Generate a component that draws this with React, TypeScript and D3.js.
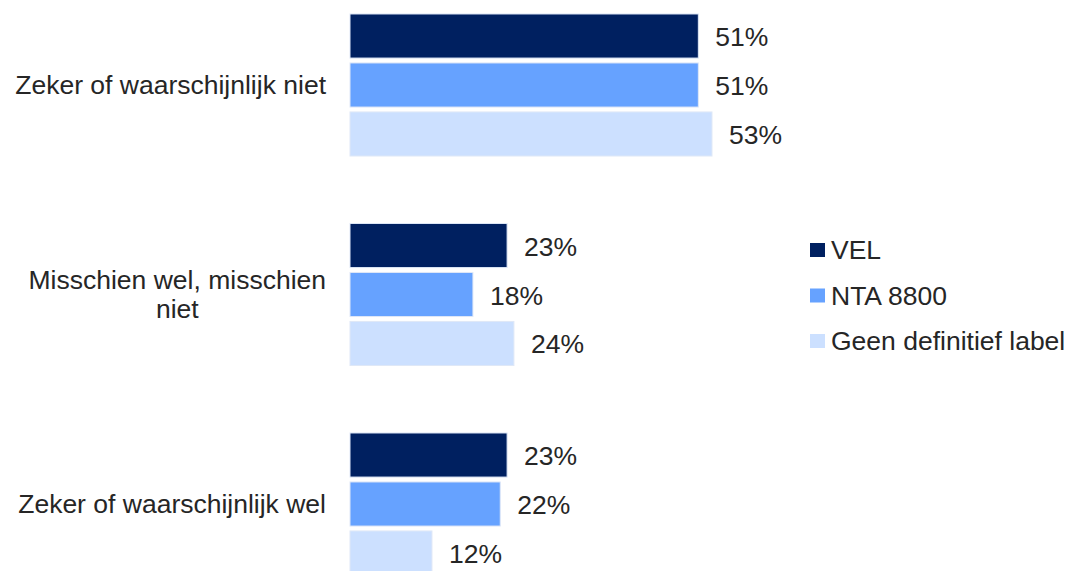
import { useEffect, useRef } from 'react';
import * as d3 from 'd3';

const categories = ['Zeker of waarschijnlijk niet', 'Misschien wel, misschien niet', 'Zeker of waarschijnlijk wel'];
const categoryLines = [['Zeker of waarschijnlijk niet'], ['Misschien wel, misschien', 'niet'], ['Zeker of waarschijnlijk wel']];
const seriesNames = ['VEL', 'NTA 8800', 'Geen definitief label'];
const velValues = [51, 23, 23];
const ntaValues = [51, 18, 22];
const geenValues = [53, 24, 12];

const colors = ['#002060', '#66A2FF', '#CCE0FF'];

export default function App() {
  const svgRef = useRef<SVGSVGElement>(null);
  const width = 1068;
  const height = 571;

  useEffect(() => {
    if (!svgRef.current) return;
    const root = d3.select(svgRef.current);
    root.selectAll('*').remove();

    const font = '"Liberation Sans", Arial, sans-serif';
    const fontSize = '26.5px';
    const textColor = '#262626';
    const x0 = 350;
    const labelRight = 326;

    const x = d3.scaleLinear().domain([0, 100]).range([0, 683]);
    const y = d3
      .scaleBand()
      .domain(categories)
      .range([-19.75, 608.75])
      .paddingInner(0.322)
      .paddingOuter(0.161);
    const ys = d3
      .scaleBand()
      .domain(seriesNames)
      .range([0, y.bandwidth()])
      .paddingInner(0.1);

    const allValues = [velValues, ntaValues, geenValues];
    const rows = categories.flatMap((c, ci) =>
      seriesNames.map((s, si) => ({ cat: c, series: s, si, value: allValues[si][ci] }))
    );

    const g = root.append('g');

    // Bars
    g.selectAll('.bar')
      .data(rows)
      .enter()
      .append('rect')
      .attr('x', x0)
      .attr('y', (d) => y(d.cat)! + ys(d.series)!)
      .attr('width', (d) => x(d.value))
      .attr('height', ys.bandwidth())
      .style('fill', (d) => colors[d.si])
      .style('stroke', '#dfe8f7')
      .style('stroke-width', 1);

    // Value labels
    g.selectAll('.val')
      .data(rows)
      .enter()
      .append('text')
      .attr('x', (d) => x0 + x(d.value) + 17)
      .attr('y', (d) => y(d.cat)! + ys(d.series)! + ys.bandwidth() / 2 + 3)
      .attr('dominant-baseline', 'middle')
      .text((d) => `${d.value}%`)
      .style('font-family', font)
      .style('font-size', fontSize)
      .style('fill', textColor);

    // Category labels (lines centred on each other, block right-aligned)
    categories.forEach((c, ci) => {
      const lines = categoryLines[ci];
      const lineH = 29;
      const cy = y(c)! + y.bandwidth() / 2 + 2;
      const t = g
        .append('text')
        .style('font-family', font)
        .style('font-size', fontSize)
        .style('fill', textColor)
        .attr('text-anchor', 'middle');
      const spans = lines.map((line, li) =>
        t
          .append('tspan')
          .attr('dominant-baseline', 'middle')
          .attr('y', cy + (li - (lines.length - 1) / 2) * lineH)
          .text(line)
      );
      const maxW = d3.max(spans, (s) => (s.node() as SVGTSpanElement).getComputedTextLength()) || 0;
      spans.forEach((s) => s.attr('x', labelRight - maxW / 2));
    });

    // Legend
    const legend = g.append('g').attr('transform', 'translate(810,243)');
    seriesNames.forEach((s, i) => {
      const row = legend.append('g').attr('transform', `translate(0,${i * 45.5})`);
      row.append('rect').attr('width', 15).attr('height', 14).style('fill', colors[i]);
      row
        .append('text')
        .attr('x', 21)
        .attr('y', 9)
        .attr('dominant-baseline', 'middle')
        .text(s)
        .style('font-family', font)
        .style('font-size', fontSize)
        .style('fill', textColor);
    });
  }, []);

  return (
    <svg
      ref={svgRef}
      width={width}
      height={height}
      style={{ position: 'absolute', left: 0, top: 0, background: '#fff' }}
    />
  );
}
